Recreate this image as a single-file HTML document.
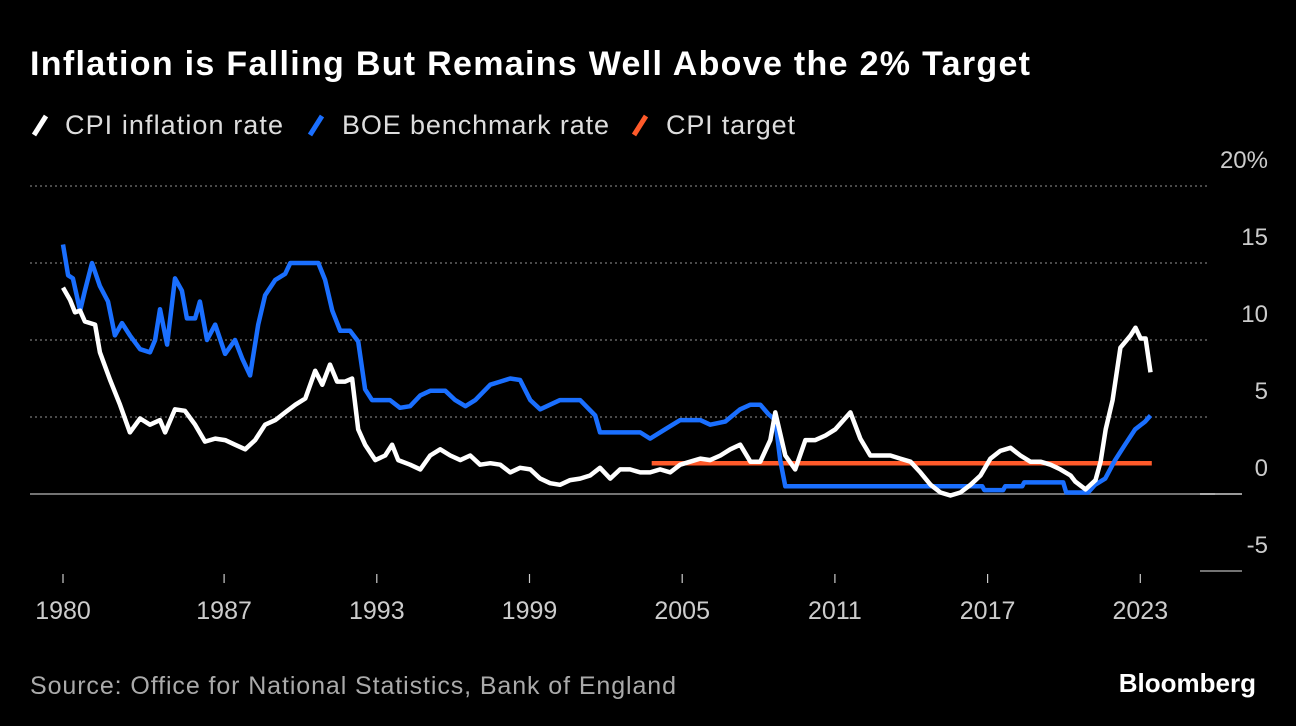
<!DOCTYPE html>
<html><head><meta charset="utf-8"><style>
body{margin:0;background:#000;width:1296px;height:726px;overflow:hidden;font-family:"Liberation Sans",sans-serif}
svg{position:absolute;left:0;top:0}
</style></head><body>
<svg width="1296" height="726">
<text x="30" y="75" fill="#fff" font-size="34" font-weight="bold" textLength="1000">Inflation is Falling But Remains Well Above the 2% Target</text>
<g font-size="27" fill="#ddd">
<g><line x1="34" y1="135" x2="46" y2="116" stroke="#fff" stroke-width="5"/><text x="65" y="134" textLength="218">CPI inflation rate</text></g>
<g><line x1="310" y1="135" x2="322" y2="116" stroke="#1a6fff" stroke-width="5"/><text x="342" y="134" textLength="267">BOE benchmark rate</text></g>
<g><line x1="634" y1="135" x2="646" y2="116" stroke="#ff5a2a" stroke-width="5"/><text x="666" y="134" textLength="129">CPI target</text></g>
</g>
<g id="grid"></g><g id="xaxis"></g><g id="series"></g>
<text x="30" y="694" fill="#aaa" font-size="25" textLength="646">Source: Office for National Statistics, Bank of England</text>
<text x="1256" y="692" fill="#fff" font-size="26" font-weight="bold" text-anchor="end">Bloomberg</text>
</svg>
<script>
const cpiYears=[1980.67,1980.95,1981.14,1981.34,1981.53,1981.93,1982.12,1982.52,1982.91,1983.30,1983.70,1984.09,1984.48,1984.68,1985.07,1985.46,1985.86,1986.25,1986.65,1987.04,1987.43,1987.83,1988.22,1988.61,1989.01,1989.40,1989.80,1990.19,1990.58,1990.86,1991.16,1991.44,1991.76,1992.03,1992.27,1992.54,1992.94,1993.33,1993.60,1993.84,1994.31,1994.71,1995.10,1995.49,1995.89,1996.28,1996.67,1997.06,1997.46,1997.85,1998.24,1998.63,1999.03,1999.42,1999.81,2000.20,2000.60,2000.99,2001.38,2001.77,2002.17,2002.56,2002.95,2003.35,2003.74,2004.13,2004.53,2004.92,2005.31,2005.71,2006.10,2006.50,2006.89,2007.28,2007.68,2008.07,2008.46,2008.66,2009.05,2009.44,2009.84,2010.23,2010.63,2011.02,2011.61,2012.00,2012.39,2013.18,2013.57,2013.97,2014.36,2014.76,2015.15,2015.54,2015.93,2016.33,2016.72,2017.11,2017.50,2017.90,2018.29,2018.68,2019.08,2019.47,2019.86,2020.26,2020.45,2020.85,2021.24,2021.44,2021.64,2021.91,2022.22,2022.62,2022.81,2023.01,2023.21,2023.40];
const cpiValues=[13.4,12.6,11.8,11.9,11.2,11.0,9.2,7.4,5.8,4.0,4.9,4.5,4.8,4.0,5.5,5.4,4.5,3.4,3.6,3.5,3.2,2.9,3.5,4.5,4.8,5.3,5.8,6.2,8.0,7.1,8.4,7.3,7.3,7.5,4.2,3.2,2.2,2.5,3.2,2.2,1.9,1.6,2.5,2.9,2.5,2.2,2.5,1.9,2.0,1.9,1.4,1.7,1.6,1.0,0.7,0.6,0.9,1.0,1.2,1.7,1.0,1.6,1.6,1.4,1.4,1.6,1.4,1.9,2.1,2.3,2.2,2.5,2.9,3.2,2.1,2.1,3.5,5.3,2.5,1.6,3.5,3.5,3.8,4.2,5.3,3.6,2.5,2.5,2.3,2.1,1.4,0.6,0.1,-0.1,0.1,0.6,1.2,2.3,2.8,3.0,2.5,2.1,2.1,1.9,1.6,1.2,0.8,0.3,0.9,2.1,4.2,6.1,9.5,10.3,10.8,10.1,10.1,7.9];
const boeYears=[1980.67,1980.87,1981.06,1981.34,1981.53,1981.81,1982.12,1982.44,1982.71,1982.99,1983.30,1983.70,1984.09,1984.29,1984.48,1984.76,1985.07,1985.34,1985.54,1985.86,1986.05,1986.33,1986.65,1987.04,1987.43,1987.71,1988.02,1988.34,1988.61,1989.01,1989.40,1989.60,1990.70,1990.97,1991.25,1991.56,1991.95,1992.27,1992.54,1992.81,1993.52,1993.91,1994.31,1994.71,1995.10,1995.69,1996.08,1996.48,1996.87,1997.46,1997.85,1998.24,1998.63,1999.03,1999.42,1999.81,2000.20,2000.99,2001.58,2001.77,2003.35,2003.74,2004.33,2004.92,2005.71,2006.10,2006.69,2007.28,2007.68,2008.07,2008.38,2008.66,2008.85,2009.05,2016.79,2016.87,2017.61,2017.69,2018.36,2018.44,2019.97,2020.09,2020.95,2021.22,2021.62,2022.01,2022.40,2022.80,2023.19,2023.40];
const boeValues=[16.2,14.2,14.0,11.9,13.2,15.0,13.5,12.5,10.3,11.1,10.3,9.4,9.2,10.0,12.0,9.7,14.0,13.2,11.4,11.4,12.5,10.0,11.0,9.1,10.0,8.8,7.7,11.0,12.9,13.9,14.3,15.0,15.0,13.9,11.9,10.6,10.6,9.9,6.8,6.1,6.1,5.6,5.7,6.4,6.7,6.7,6.1,5.7,6.1,7.1,7.3,7.5,7.4,6.1,5.5,5.8,6.1,6.1,5.1,4.0,4.0,3.6,4.2,4.8,4.8,4.5,4.7,5.5,5.8,5.8,5.2,4.8,2.2,0.5,0.5,0.25,0.25,0.5,0.5,0.75,0.75,0.1,0.1,0.6,1.0,2.2,3.2,4.2,4.7,5.1];
const targetYears=[2003.8,2023.45];
const targetValues=[2,2];
const yTicks=[20,15,10,5,0,-5];
const yTickLabels=["20%","15","10","5","0","-5"];
const xTicks=[1980.67,1987,1993,1999,2005,2011,2017,2023];
const xTickLabels=["1980","1987","1993","1999","2005","2011","2017","2023"];
const NS="http://www.w3.org/2000/svg";
const X=t=>63+(t-1980.67)*25.45;
const Y=v=>494-v*15.4;
function mk(tag,attrs,parent){const e=document.createElementNS(NS,tag);for(const k in attrs)e.setAttribute(k,attrs[k]);parent.appendChild(e);return e;}
const grid=document.getElementById('grid');
yTicks.forEach((v,i)=>{
  let l;
  if(v===0){l=mk('line',{x1:30,x2:1215,y1:Y(v),y2:Y(v),stroke:'#999','stroke-width':1.5},grid);}
  else if(v===-5){l=mk('line',{x1:1200,x2:1242,y1:Y(v),y2:Y(v),stroke:'#999','stroke-width':1.5},grid);}
  else{l=mk('line',{x1:30,x2:1210,y1:Y(v),y2:Y(v),stroke:'#777','stroke-width':1.2,'stroke-dasharray':'2 3'},grid);}
  
  
  const t=mk('text',{x:1268,y:Y(v)-18,fill:'#ccc','font-size':24,'text-anchor':'end'},grid);
  t.textContent=yTickLabels[i];
  
  
});
const z=mk('line',{x1:1200,x2:1242,y1:Y(0),y2:Y(0),stroke:'#ccc','stroke-width':1.5},grid);


const xa=document.getElementById('xaxis');
xTicks.forEach((t,i)=>{
  const l=mk('line',{x1:X(t),x2:X(t),y1:574,y2:583,stroke:'#ccc','stroke-width':1.2},xa);
  
  
  const tx=mk('text',{x:X(t),y:619,fill:'#ccc','font-size':25,'text-anchor':'middle'},xa);
  tx.textContent=xTickLabels[i];
  
  
});
const sg=document.getElementById('series');
function line(xs,vs,color,name){
  const d=xs.map((t,i)=>(i?'L':'M')+X(t).toFixed(1)+','+Y(vs[i]).toFixed(1)).join('');
  const p=mk('path',{d:d,fill:'none',stroke:color,'stroke-width':4.5,'stroke-linejoin':'round'},sg);
  
  
}
line(targetYears,targetValues,'#ff5a2a','cpi-target-line');
line(boeYears,boeValues,'#1a6fff','boe-rate-line');
line(cpiYears,cpiValues,'#ffffff','cpi-inflation-line');
</script>
</body></html>
